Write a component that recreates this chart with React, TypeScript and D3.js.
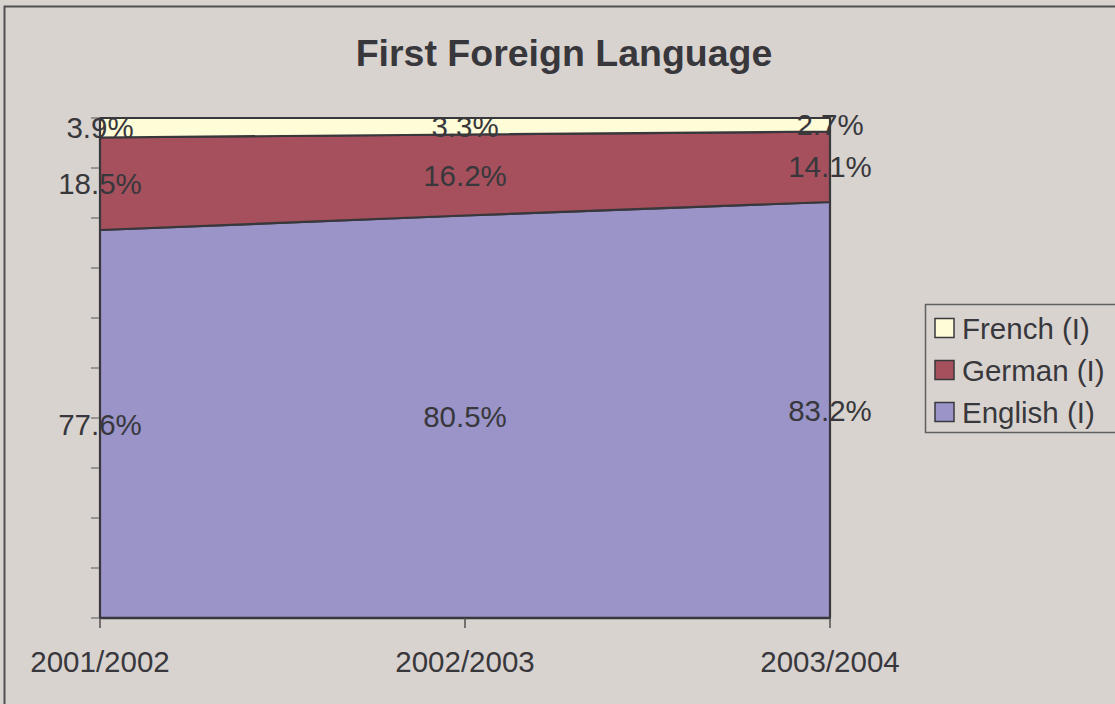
import React from "react";
import * as d3 from "d3";

const years = ["2001/2002", "2002/2003", "2003/2004"];
const english = [77.6, 80.5, 83.2];
const german = [18.5, 16.2, 14.1];
const french = [3.9, 3.3, 2.7];
const seriesNames = ["English (I)", "German (I)", "French (I)"];
const seriesColors = ["#9A94C8", "#A5505C", "#FFFCD8"];
const yTicks = d3.range(0, 101, 10);

const W = 1115, H = 704;
const plot = { left: 100, right: 830, top: 118, bottom: 618 };
const textColor = "#38383C";
const font = "'Liberation Sans', Arial, sans-serif";

export default function App() {
  const x = d3.scalePoint<string>().domain(years).range([plot.left, plot.right]);
  const y = d3.scaleLinear().domain([0, 100]).range([plot.bottom, plot.top]);

  const rows = years.map((yr, i) => ({ yr, e: english[i], g: german[i], f: french[i] }));
  const stack = d3.stack<any>().keys(["e", "g", "f"])(rows);
  const area = d3.area<any>()
    .x((d: any) => x(d.data.yr)!)
    .y0((d: any) => y(d[0]))
    .y1((d: any) => y(d[1]));
  const valueArrays = [english, german, french];

  const legendItems = [2, 1, 0];

  return (
    <svg width={W} height={H} style={{ position: "absolute", left: 0, top: 0, display: "block" }}>
      <rect x={0} y={0} width={W} height={H} fill="#D9D3D0" />
      <rect x={4.5} y={6.5} width={W + 20} height={H + 20} fill="none" stroke="#505050" strokeWidth={2} />
      <text x={564} y={66} textAnchor="middle" fontFamily={font} fontWeight="bold" fontSize={37.5} fill={textColor}>
        First Foreign Language
      </text>
      {stack.map((s, i) => (
        <path key={i} d={area(s as any)!} fill={seriesColors[i]} stroke="#38383C" strokeWidth={2.2} strokeLinejoin="round" />
      ))}
      {yTicks.map((t) => (
        <line key={t} x1={plot.left - 9} x2={plot.left} y1={y(t)} y2={y(t)} stroke="#808080" strokeWidth={1.5} />
      ))}
      <line x1={plot.left} x2={plot.left} y1={plot.top} y2={plot.bottom} stroke="#38383C" strokeWidth={2} />
      <line x1={plot.left} x2={plot.right} y1={plot.bottom} y2={plot.bottom} stroke="#38383C" strokeWidth={2.5} />
      {years.map((yr) => (
        <line key={yr} x1={x(yr)!} x2={x(yr)!} y1={plot.bottom} y2={plot.bottom + 10} stroke="#505050" strokeWidth={1.5} />
      ))}
      {years.map((yr) => (
        <text key={yr} x={x(yr)!} y={672} textAnchor="middle" fontFamily={font} fontSize={29.5} fill={textColor}>
          {yr}
        </text>
      ))}
      {stack.map((s, i) =>
        s.map((d: any, j: number) => (
          <text key={`${i}-${j}`} x={x(d.data.yr)!} y={(y(d[0]) + y(d[1])) / 2} dy="0.36em" textAnchor="middle"
            fontFamily={font} fontSize={29.5} fill={textColor}>
            {valueArrays[i][j].toFixed(1)}%
          </text>
        ))
      )}
      <rect x={925.5} y={304.5} width={220} height={128} fill="#D9D3D0" stroke="#606060" strokeWidth={1.5} />
      {legendItems.map((si, k) => {
        const cy = 328 + k * 42;
        return (
          <g key={si}>
            <rect x={935} y={cy - 9.5} width={19} height={19} fill={seriesColors[si]} stroke="#38383C" strokeWidth={1.5} />
            <text x={962} y={cy} dy="0.36em" fontFamily={font} fontSize={29.5} fill={textColor}>
              {seriesNames[si]}
            </text>
          </g>
        );
      })}
    </svg>
  );
}
